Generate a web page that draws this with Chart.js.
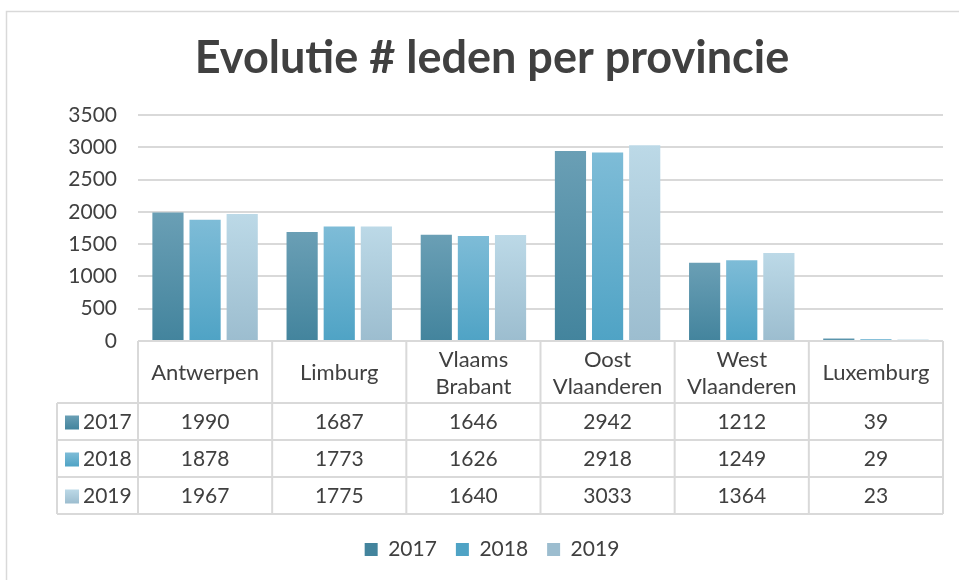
<!DOCTYPE html>
<html>
<head>
<meta charset="utf-8">
<script src="https://cdn.jsdelivr.net/npm/chart.js@4"></script>
<style>
  html, body { margin: 0; padding: 0; background: #fff; }
  #wrap { position: relative; width: 959px; height: 580px; }
</style>
</head>
<body>
<div id="wrap"><canvas id="chart" width="959" height="580"></canvas></div>
<script>
const categories = ['Antwerpen', 'Limburg', ['Vlaams', 'Brabant'], ['Oost', 'Vlaanderen'], ['West', 'Vlaanderen'], 'Luxemburg'];
const years = ['2017', '2018', '2019'];
const leden2017 = [1990, 1687, 1646, 2942, 1212, 39];
const leden2018 = [1878, 1773, 1626, 2918, 1249, 29];
const leden2019 = [1967, 1775, 1640, 3033, 1364, 23];

const textColor = '#404040';
const lineColor = '#d9d9d9';
const font = 'Lato';

// top / bottom colour of each series gradient
const shades = [
    ['#6a9fb5', '#43849d'],
    ['#7ebcd7', '#4fa3c5'],
    ['#bcd9e7', '#9cbdcf']
];

function barFill(i) {
    return function (c) {
        const chart = c.chart;
        if (!chart.chartArea || c.raw === undefined) return shades[i][1];
        const y = chart.scales.y;
        const top = y.getPixelForValue(c.raw);
        const base = y.getPixelForValue(0);
        const g = chart.ctx.createLinearGradient(0, top, 0, Math.max(base, top + 1));
        g.addColorStop(0, shades[i][0]);
        g.addColorStop(1, shades[i][1]);
        return g;
    };
}

const frame = {
    id: 'frame',
    beforeDraw(chart) {
        const ctx = chart.ctx;
        ctx.save();
        ctx.strokeStyle = lineColor;
        ctx.lineWidth = 1.5;
        ctx.strokeRect(6.5, 11.5, 960, 580);
        ctx.restore();
    }
};

// data table under the bars, lined up with the category scale
const dataTable = {
    id: 'dataTable',
    afterDraw(chart) {
        const ctx = chart.ctx;
        const ca = chart.chartArea;
        const xs = chart.scales.x;
        const n = categories.length;
        const colW = (ca.right - ca.left) / n;
        const headH = 62, rowH = 37;
        const top = ca.bottom;
        const rowsTop = top + headH;
        const bottom = rowsTop + rowH * 3;
        const labelLeft = 57;
        const rows = chart.data.datasets;

        ctx.save();
        ctx.strokeStyle = lineColor;
        ctx.lineWidth = 2;
        ctx.beginPath();
        ctx.moveTo(ca.left, top); ctx.lineTo(ca.right, top);
        for (let r = 0; r <= 3; r++) {
            const y = rowsTop + r * rowH;
            ctx.moveTo(labelLeft, y); ctx.lineTo(ca.right, y);
        }
        for (let i = 0; i <= n; i++) {
            const x = ca.left + i * colW;
            ctx.moveTo(x, top); ctx.lineTo(x, bottom);
        }
        ctx.moveTo(labelLeft, rowsTop); ctx.lineTo(labelLeft, bottom);
        ctx.stroke();

        ctx.fillStyle = textColor;
        ctx.font = '22px ' + font;
        ctx.textAlign = 'center';
        ctx.textBaseline = 'middle';
        categories.forEach((cat, i) => {
            const cx = xs.getPixelForValue(i);
            const lines = Array.isArray(cat) ? cat : [cat];
            const mid = top + headH / 2 + 1;
            lines.forEach((ln, k) => {
                ctx.fillText(ln, cx, mid + (k - (lines.length - 1) / 2) * 27);
            });
        });

        ctx.font = '21px ' + font;
        rows.forEach((ds, r) => {
            const cy = rowsTop + r * rowH + rowH / 2 + 1;
            ds.data.forEach((v, i) => {
                ctx.fillText(String(v), xs.getPixelForValue(i), cy);
            });
            const g = ctx.createLinearGradient(0, cy - 7, 0, cy + 7);
            g.addColorStop(0, shades[r][0]);
            g.addColorStop(1, shades[r][1]);
            ctx.fillStyle = g;
            ctx.fillRect(65, cy - 7, 14, 14);
            ctx.fillStyle = textColor;
            ctx.textAlign = 'left';
            ctx.fillText(ds.label, 83, cy);
            ctx.textAlign = 'center';
        });
        ctx.restore();
    }
};

const ctx = document.getElementById('chart').getContext('2d');

new Chart(ctx, {
    type: 'bar',
    data: {
        labels: categories,
        datasets: [
            { label: years[0], data: leden2017, backgroundColor: barFill(0) },
            { label: years[1], data: leden2018, backgroundColor: barFill(1) },
            { label: years[2], data: leden2019, backgroundColor: barFill(2) }
        ]
    },
    options: {
        responsive: false,
        animation: false,
        categoryPercentage: 0.83,
        barPercentage: 0.84,
        layout: { padding: { left: 41, right: 16, top: 12, bottom: 10 } },
        scales: {
            x: {
                grid: { display: false },
                border: { display: false },
                ticks: { display: false },
                afterFit(scale) { scale.height = 179; }
            },
            y: {
                min: 0,
                max: 3500,
                ticks: {
                    stepSize: 500,
                    padding: 21,
                    color: textColor,
                    font: { family: font, size: 21 },
                    callback: v => String(v)
                },
                grid: { color: lineColor, lineWidth: 2, drawTicks: false },
                border: { display: false },
                afterFit(scale) { scale.width = 97; }
            }
        },
        plugins: {
            title: {
                display: true,
                text: 'Evolutie # leden per provincie',
                color: textColor,
                font: { family: font, size: 45, weight: 'bold' },
                padding: { top: 19, bottom: 30 }
            },
            legend: {
                position: 'bottom',
                labels: {
                    color: textColor,
                    font: { family: font, size: 21 },
                    boxWidth: 13,
                    boxHeight: 13,
                    padding: 19,
                    generateLabels(chart) {
                        return chart.data.datasets.map((ds, i) => ({
                            text: ds.label,
                            fillStyle: shades[i][1],
                            strokeStyle: shades[i][1],
                            lineWidth: 0,
                            fontColor: textColor,
                            datasetIndex: i
                        }));
                    }
                }
            },
            tooltip: { enabled: false }
        }
    },
    plugins: [frame, dataTable]
});
</script>
</body>
</html>
